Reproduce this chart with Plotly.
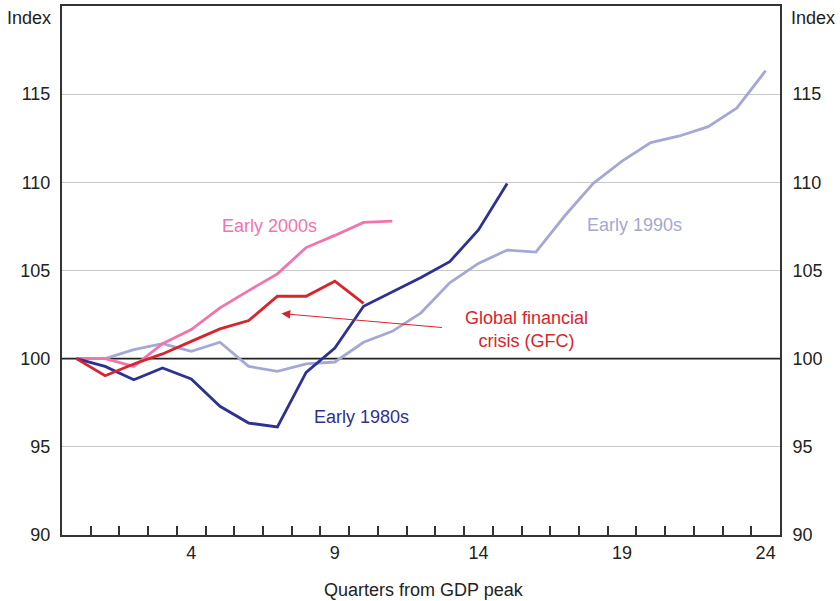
import plotly.graph_objects as go

quarters = list(range(0, 25))

early_1980s = [100, 99.56, 98.8, 99.47, 98.85, 97.3, 96.35, 96.13, 99.22, 100.6,
               102.97, 103.8, 104.6, 105.5, 107.3, 109.94]
early_1990s = [100, 100, 100.51, 100.85, 100.42, 100.93, 99.56, 99.28, 99.7, 99.81,
               100.93, 101.55, 102.6, 104.3, 105.4, 106.16, 106.04, 108.09, 109.94,
               111.2, 112.25, 112.63, 113.16, 114.22, 116.33]
early_2000s = [100, 100, 99.56, 100.85, 101.65, 102.88, 103.86, 104.81, 106.3, 106.99,
               107.73, 107.8]
gfc = [100, 99.03, 99.7, 100.27, 100.98, 101.69, 102.16, 103.54, 103.54, 104.39, 103.13]

y_ticks = [90, 95, 100, 105, 110, 115]
grid_ticks = [95, 105, 110, 115]
x_tick_labels = [4, 9, 14, 19, 24]

C_1980 = "#2E3192"
C_1990 = "#A5A8D4"
C_2000 = "#F274AC"
C_GFC = "#D7252D"
FONT = "Arial, Liberation Sans, sans-serif"
FS = 18

fig = go.Figure()
for name, vals, col in [("Early 1990s", early_1990s, C_1990),
                        ("Early 2000s", early_2000s, C_2000),
                        ("Early 1980s", early_1980s, C_1980),
                        ("GFC", gfc, C_GFC)]:
    fig.add_trace(go.Scatter(x=quarters[:len(vals)], y=vals, mode="lines",
                             line=dict(color=col, width=2.8), name=name,
                             showlegend=False, hoverinfo="skip"))
# invisible traces on helper axes
for ya in ["y2", "y3"]:
    fig.add_trace(go.Scatter(x=[0], y=[100], yaxis=ya, mode="lines",
                             line=dict(width=0), showlegend=False, hoverinfo="skip"))

fig.add_hline(y=100, line=dict(color="#222222", width=1.6), layer="below")

axis_font = dict(family=FONT, size=FS, color="#222222")
fig.update_layout(
    width=840, height=601,
    margin=dict(l=62, r=60, t=6, b=66, autoexpand=False),
    plot_bgcolor="white", paper_bgcolor="white",
    font=axis_font,
    xaxis=dict(range=[-0.5, 24.5], tickmode="array", tickvals=x_tick_labels,
               ticktext=[str(v) for v in x_tick_labels], ticks="", automargin=False,
               showgrid=False, zeroline=False,
               showline=True, linecolor="#333333", linewidth=2, mirror=True,
               minor=dict(tickvals=[q + 0.5 for q in quarters[:-1]], ticks="inside",
                          ticklen=9, tickcolor="#333333", tickwidth=1.5, showgrid=False)),
    yaxis=dict(range=[90, 120], tickmode="array", tickvals=y_ticks, automargin=False,
               showgrid=False, zeroline=False,
               ticks="outside", ticklen=6, tickcolor="rgba(0,0,0,0)",
               showline=True, linecolor="#333333", linewidth=2, mirror=True),
    yaxis2=dict(range=[90, 120], tickmode="array", tickvals=y_ticks, automargin=False,
                overlaying="y", side="right", showgrid=False, zeroline=False,
                ticks="outside", ticklen=8, tickcolor="rgba(0,0,0,0)",
                showline=False),
    yaxis3=dict(range=[90, 120], tickmode="array", tickvals=grid_ticks, automargin=False,
                overlaying="y", side="left", showgrid=True, gridcolor="#C8C8C8",
                gridwidth=1.2, zeroline=False, showticklabels=False, ticks="",
                showline=False),
)

fig.add_annotation(text="Index", xref="paper", yref="paper", x=-0.013, y=1.0,
                   xanchor="right", yanchor="top", showarrow=False, font=axis_font)
fig.add_annotation(text="Index", xref="paper", yref="paper", x=1.013, y=1.0,
                   xanchor="left", yanchor="top", showarrow=False, font=axis_font)
fig.add_annotation(text="Quarters from GDP peak", xref="paper", yref="paper",
                   x=(424 - 62) / 718, y=0, yshift=-55, xanchor="center", yanchor="middle",
                   showarrow=False, font=axis_font)

fig.add_annotation(text="Early 2000s", x=6.73, y=107.5, showarrow=False,
                   font=dict(family=FONT, size=FS, color=C_2000))
fig.add_annotation(text="Early 1980s", x=9.92, y=96.7, showarrow=False,
                   font=dict(family=FONT, size=FS, color=C_1980))
fig.add_annotation(text="Early 1990s", x=19.43, y=107.6, showarrow=False,
                   font=dict(family=FONT, size=FS, color=C_1990))
fig.add_annotation(text="Global financial<br>crisis (GFC)", x=15.67, y=101.68,
                   showarrow=False, align="center",
                   font=dict(family=FONT, size=FS, color=C_GFC))
fig.add_annotation(x=7.14, y=102.56, ax=12.78, ay=101.76, axref="x", ayref="y",
                   text="", showarrow=True, arrowhead=2, arrowsize=1.6,
                   arrowwidth=1.1, arrowcolor=C_GFC)

fig.write_html("out.html", config={"displayModeBar": False},
               post_script="document.body.style.margin='0';document.body.style.padding='0';")
